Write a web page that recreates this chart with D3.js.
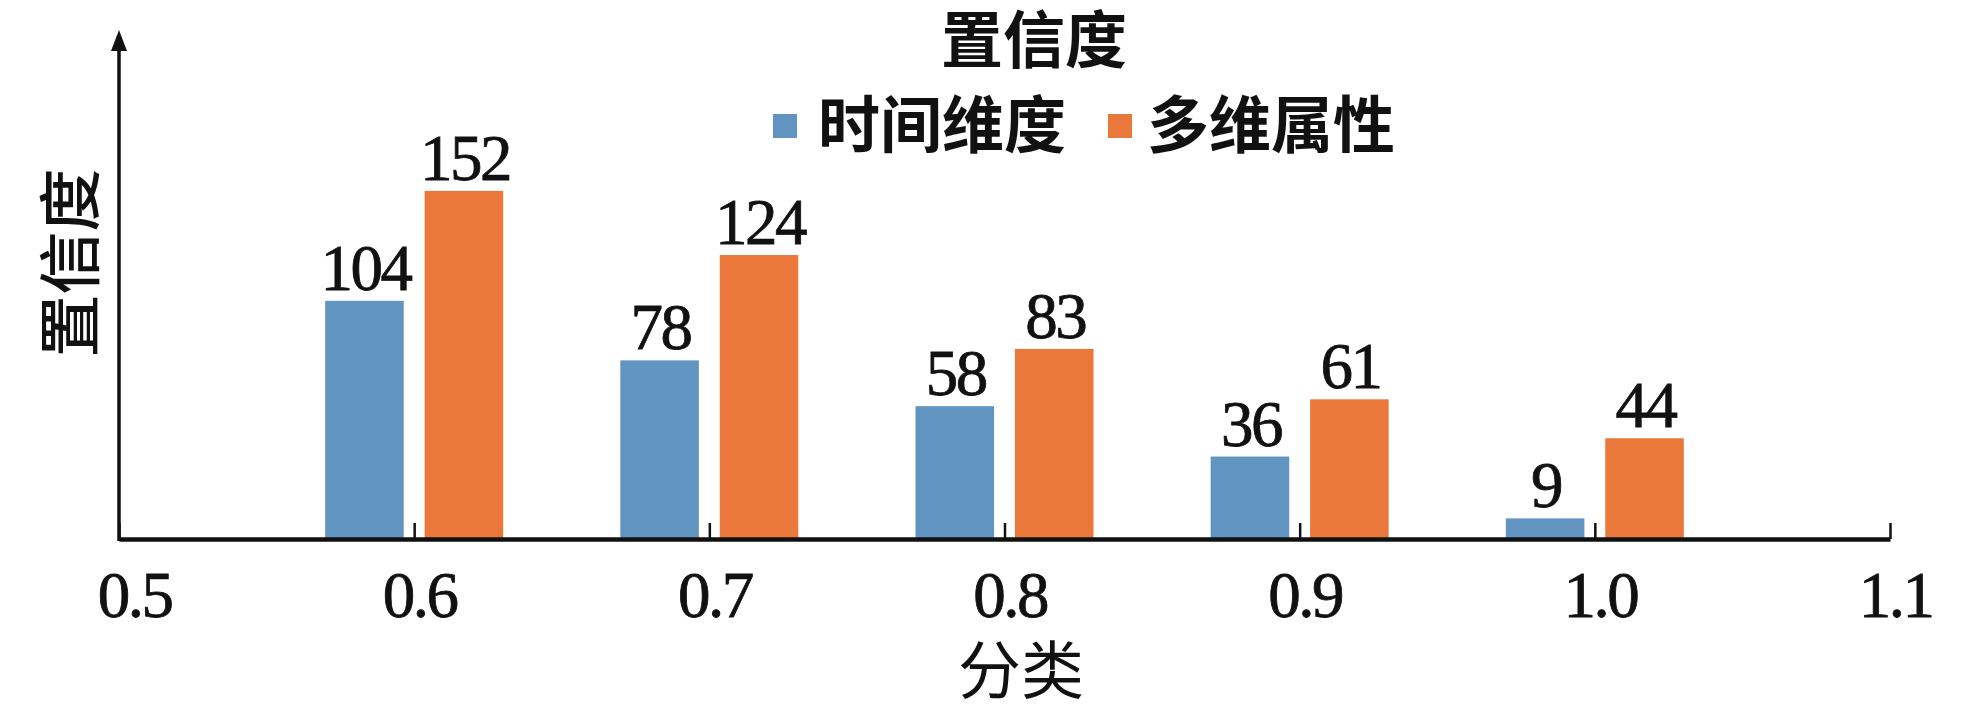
<!DOCTYPE html>
<html>
<head>
<meta charset="utf-8">
<script src="https://cdn.jsdelivr.net/npm/d3@7"></script>
<style>
  html, body { margin: 0; padding: 0; background: #fff; }
  svg { display: block; }
</style>
</head>
<body>
<div id="chart"></div>
<script>
const categories = [0.6, 0.7, 0.8, 0.9, 1.0];
const seriesNames = ["时间维度", "多维属性"];
const timeDimension = [104, 78, 58, 36, 9];
const multiAttribute = [152, 124, 83, 61, 44];
const xTicks = [0.5, 0.6, 0.7, 0.8, 0.9, 1.0, 1.1];
const xTickLabels = ["0.5", "0.6", "0.7", "0.8", "0.9", "1.0", "1.1"];
const titleText = "置信度";
const yAxisLabel = "置信度";
const xAxisLabel = "分类";
const colors = ["#6194c1", "#eb783b"];

const W = 1961, H = 709;
const svg = d3.select("#chart").append("svg").attr("width", W).attr("height", H);

const x = d3.scaleLinear().domain([0.5, 1.1]).range([119, 1890]);
const y = d3.scaleLinear().domain([0, 220]).range([539, 539 - 220 * 2.29]);
const xs = d3.scaleBand().domain(seriesNames).range([-89, 89]).paddingInner(0.21);

const seriesData = [timeDimension, multiAttribute];
const numFont = "'Liberation Serif', 'Times New Roman', serif";
const cjkFont = "'Noto Sans CJK SC', sans-serif";

// bars
seriesNames.forEach((name, si) => {
  const g = svg.append("g");
  g.selectAll("rect").data(categories).join("rect")
    .attr("x", (d) => x(d) + xs(name))
    .attr("width", xs.bandwidth())
    .attr("y", (d, i) => y(seriesData[si][i]))
    .attr("height", (d, i) => y(0) - y(seriesData[si][i]))
    .attr("fill", colors[si]);
  g.selectAll("text").data(categories).join("text")
    .attr("x", (d) => x(d) + xs(name) + xs.bandwidth() / 2 + 1)
    .attr("y", (d, i) => y(seriesData[si][i]) - 11)
    .attr("text-anchor", "middle")
    .attr("font-family", numFont)
    .attr("font-size", 65)
    .attr("letter-spacing", -2.5)
    .attr("fill", "#111")
    .attr("stroke", "#111")
    .attr("stroke-width", 0.8)
    .text((d, i) => seriesData[si][i]);
});

// x axis
const xAxis = d3.axisBottom(x)
  .tickValues(xTicks)
  .tickFormat((d, i) => xTickLabels[i])
  .tickSizeInner(-16)
  .tickSizeOuter(0)
  .tickPadding(0);
const gx = svg.append("g").attr("transform", `translate(0,${y(0)})`).call(xAxis);
gx.select(".domain").attr("stroke", "#111").attr("stroke-width", 4.5);
gx.selectAll(".tick line").attr("stroke", "#111").attr("stroke-width", 2.5);
gx.selectAll(".tick text")
  .attr("font-family", numFont)
  .attr("font-size", 65)
  .attr("letter-spacing", -2.5)
  .attr("fill", "#111")
  .attr("stroke", "#111")
  .attr("stroke-width", 0.8)
  .attr("dy", null)
  .attr("y", 78)
  .attr("dx", (d, i) => (i === 0 ? 15 : 5));

// y axis with arrow
const gy = svg.append("g");
gy.append("line")
  .attr("x1", x(0.5)).attr("x2", x(0.5))
  .attr("y1", y(0) + 2).attr("y2", 48)
  .attr("stroke", "#111").attr("stroke-width", 3.5);
gy.append("path")
  .attr("d", `M${x(0.5)},30 L${x(0.5) - 8},51 L${x(0.5) + 8},51 Z`)
  .attr("fill", "#111");

// y axis label
svg.append("text")
  .attr("transform", `translate(93,263) rotate(-90)`)
  .attr("text-anchor", "middle")
  .attr("font-family", cjkFont)
  .attr("font-weight", 500)
  .attr("font-size", 63)
  .attr("fill", "#111")
  .text(yAxisLabel);

// x axis label
svg.append("text")
  .attr("x", 1021).attr("y", 693)
  .attr("text-anchor", "middle")
  .attr("font-family", cjkFont)
  .attr("font-weight", 400)
  .attr("font-size", 63)
  .attr("fill", "#111")
  .text(xAxisLabel);

// title
svg.append("text")
  .attr("x", 1034).attr("y", 63)
  .attr("text-anchor", "middle")
  .attr("font-family", cjkFont)
  .attr("font-weight", 700)
  .attr("font-size", 62)
  .attr("fill", "#111")
  .text(titleText);

// legend
const legendItems = [
  { name: seriesNames[0], color: colors[0], sx: 773, tx: 818 },
  { name: seriesNames[1], color: colors[1], sx: 1108, tx: 1147 }
];
const lg = svg.append("g");
legendItems.forEach((it) => {
  lg.append("rect").attr("x", it.sx).attr("y", 114).attr("width", 24).attr("height", 24).attr("fill", it.color);
  lg.append("text")
    .attr("x", it.tx).attr("y", 148)
    .attr("font-family", cjkFont)
    .attr("font-weight", 700)
    .attr("font-size", 62)
    .attr("fill", "#111")
    .text(it.name);
});
</script>
</body>
</html>
